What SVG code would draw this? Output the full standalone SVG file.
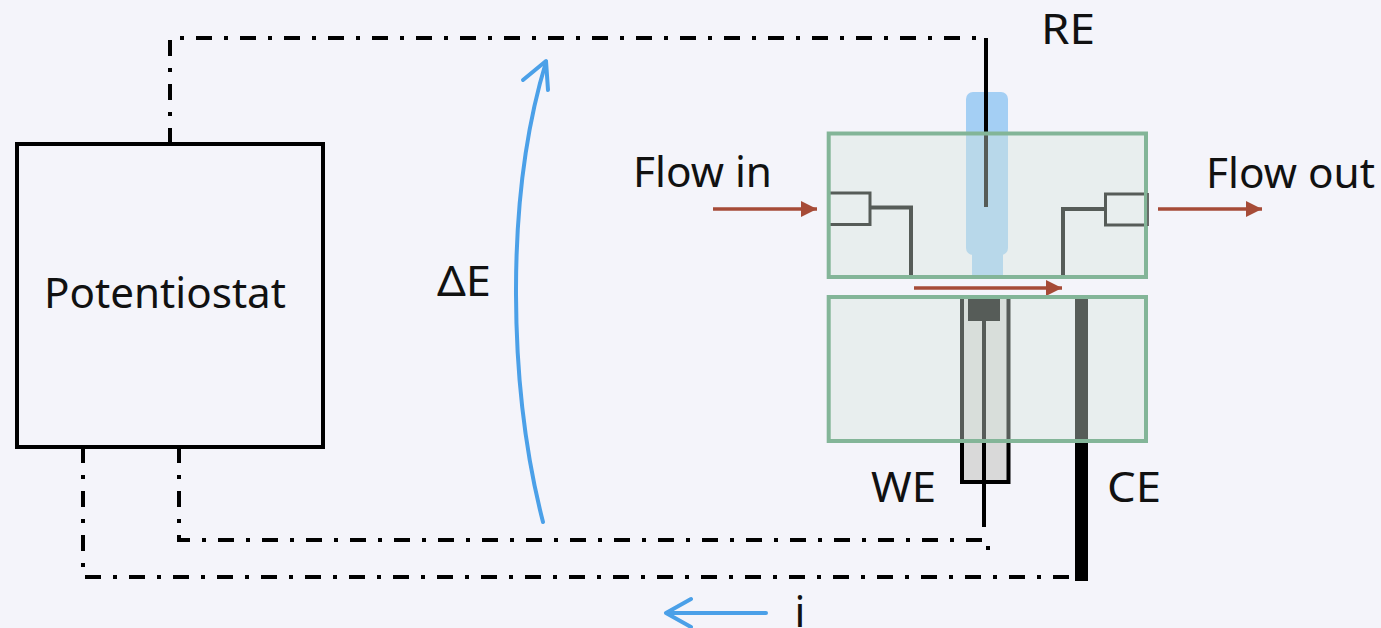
<svg xmlns="http://www.w3.org/2000/svg" width="1381" height="628" viewBox="0 0 1381 628">
<defs>
<marker id="red-head" markerUnits="userSpaceOnUse" markerWidth="16" markerHeight="16" refX="16" refY="8" orient="auto"><path d="M0 0L16 8L0 16Z" fill="#a64b37"/></marker>
</defs>
<style>
text{font-family:"Noto Sans","Open Sans",sans-serif;font-size:42px;fill:#111}
.wire{fill:none;stroke:#000;stroke-width:4;stroke-dasharray:16 12 4 12}
.solid{fill:none;stroke:#000;stroke-width:4}
.thin{fill:none;stroke:#000;stroke-width:3}
.flow{fill:none;stroke:#a64b37;stroke-width:3.5;marker-end:url(#red-head)}
.blue{fill:none;stroke:#4ba0e8;stroke-width:4;stroke-linecap:round;stroke-linejoin:round}
.cell{fill:#d6e5dc;fill-opacity:.4;stroke:#83b598;stroke-width:4}
</style>
<rect width="1381" height="628" fill="#f4f4fa"/>
<g id="reference-electrode">
<rect x="966" y="92" width="42" height="163" rx="7" fill="#a4cff4"/>
<rect x="972" y="250" width="31" height="27" fill="#a4cff4"/>
</g>
<g id="connectors">
<path class="wire" d="M170 144V38H986"/>
<path class="wire" d="M179 447V540H988V552"/>
<path class="wire" d="M83 447V577H1075"/>
<path class="solid" d="M986 38V207"/>
<path class="blue" d="M543 522C509 390 504 200 546 62"/>
<path class="blue" d="M523 80L546 61L548 90"/>
<path class="blue" d="M766 613H666M691 599L666 613L691 627"/>
<path class="flow" d="M713 209H817"/>
<path class="flow" d="M1158 209H1262"/>
<path class="flow" d="M914 288H1062"/>
</g>
<g id="working-electrode">
<rect x="962" y="297" width="46.500" height="185" fill="#d9d9d9" stroke="#000" stroke-width="4"/>
<rect x="968" y="297" width="32" height="24" fill="#000"/>
<path class="solid" d="M984 321V527"/>
</g>
<g id="counter-electrode"><rect x="1075" y="297" width="13" height="284" fill="#000"/></g>
<g id="inlet-port"><path class="thin" d="M829 193H870V224.500H829"/><path class="solid" d="M870 207.500H911V277"/></g>
<g id="outlet-port"><path class="thin" d="M1146 194H1105.500V225H1146"/><path class="solid" d="M1105 209H1063V277"/></g>
<g id="flow-cell-top"><rect class="cell" x="828.700" y="133.500" width="317.300" height="143.500"/></g>
<g id="flow-cell-bottom"><rect class="cell" x="828.700" y="297" width="317.300" height="144"/></g>
<path d="M1148 193V226" fill="none" stroke="#666c68" stroke-width="2"/>
<g id="potentiostat"><rect x="17" y="144" width="306" height="303" fill="none" stroke="#000" stroke-width="4"/><text x="44" y="308" textLength="242" lengthAdjust="spacingAndGlyphs">Potentiostat</text></g>
<g id="labels">
<text x="1041" y="44" textLength="54" lengthAdjust="spacingAndGlyphs">RE</text>
<text x="633" y="187" textLength="139" lengthAdjust="spacingAndGlyphs">Flow in</text>
<text x="1206" y="188" textLength="169" lengthAdjust="spacingAndGlyphs">Flow out</text>
<text x="437" y="296" textLength="54" lengthAdjust="spacingAndGlyphs">ΔE</text>
<text x="871" y="502" textLength="65" lengthAdjust="spacingAndGlyphs">WE</text>
<text x="1107" y="502" textLength="54" lengthAdjust="spacingAndGlyphs">CE</text>
<text x="794.500" y="627">i</text>
</g>
</svg>
